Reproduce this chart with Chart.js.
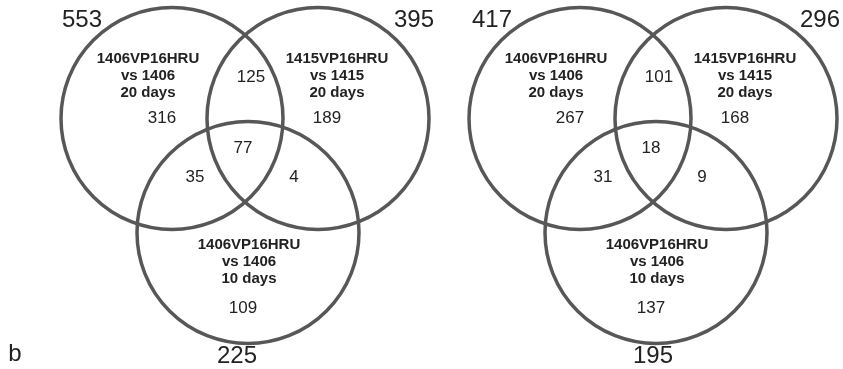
<!DOCTYPE html>
<html>
<head>
<meta charset="utf-8">
<script src="https://cdn.jsdelivr.net/npm/chart.js@4/dist/chart.umd.min.js"></script>
<style>
  html, body { margin: 0; padding: 0; background: #fff; }
  #venn { display: block; }
</style>
</head>
<body>
<canvas id="venn" width="843" height="369"></canvas>
<script>
// set names, one per circle (A = top left, B = top right, C = bottom)
const setLabels = [
  ["1406VP16HRU", "vs 1406", "20 days"],
  ["1415VP16HRU", "vs 1415", "20 days"],
  ["1406VP16HRU", "vs 1406", "10 days"]
];
// totals per set, left and right diagram
const totalsLeft = [553, 395, 225];
const totalsRight = [417, 296, 195];
// region counts: A only, B only, C only, A&B, A&C, B&C, A&B&C
const regionsLeft = [316, 189, 109, 125, 35, 4, 77];
const regionsRight = [267, 168, 137, 101, 31, 9, 18];
const panelTag = "b";

// layout (chart units, one unit = one pixel, y down)
const panelOffsets = [0, 408];
const circleCenters = [[172, 118.5], [318, 118.5], [248, 232.5]];
const circleRadius = 111;
const totalPosLeft = [[82, 20], [414, 20], [237, 356]];
const totalPosRight = [[84, 20], [412, 20], [245, 356]];
const regionPos = [[162, 118], [327, 118], [243, 308], [251, 77], [195, 177], [294, 177], [243, 148]];
const labelPos = [[148, 59], [337, 59], [249, 245]];

const panels = [
  { totals: totalsLeft, totalPos: totalPosLeft, regions: regionsLeft },
  { totals: totalsRight, totalPos: totalPosRight, regions: regionsRight }
];

const circlePoints = [];
panelOffsets.forEach(dx => {
  circleCenters.forEach(c => circlePoints.push({ x: c[0] + dx, y: c[1] }));
});

const radiusPx = (c) => {
  const s = c.chart.scales.x;
  return s.getPixelForValue(circleRadius) - s.getPixelForValue(0);
};

const textPlugin = {
  id: "vennText",
  afterDatasetsDraw(chart) {
    const { ctx, scales: { x, y } } = chart;
    const put = (txt, px, py, font) => {
      ctx.font = font;
      ctx.fillText(txt, x.getPixelForValue(px), y.getPixelForValue(py));
    };
    ctx.save();
    ctx.fillStyle = "#222";
    ctx.textAlign = "center";
    ctx.textBaseline = "middle";
    const fam = "'Liberation Sans', Arial, sans-serif";
    panels.forEach((p, i) => {
      const dx = panelOffsets[i];
      p.totals.forEach((v, k) => put(String(v), p.totalPos[k][0] + dx, p.totalPos[k][1], "24px " + fam));
      p.regions.forEach((v, k) => put(String(v), regionPos[k][0] + dx, regionPos[k][1], "17px " + fam));
      setLabels.forEach((lines, k) => {
        lines.forEach((ln, j) => put(ln, labelPos[k][0] + dx, labelPos[k][1] + j * 17, "bold 15px " + fam));
      });
    });
    put(panelTag, 15, 354, "24px " + fam);
    ctx.restore();
  }
};

new Chart(document.getElementById("venn"), {
  type: "scatter",
  data: {
    datasets: [{
      data: circlePoints,
      pointRadius: radiusPx,
      pointHoverRadius: radiusPx,
      pointBackgroundColor: "rgba(0,0,0,0)",
      pointBorderColor: "#575757",
      pointBorderWidth: 3.5,
      clip: false
    }]
  },
  options: {
    responsive: false,
    animation: false,
    devicePixelRatio: 1,
    events: [],
    layout: { padding: 0 },
    plugins: { legend: { display: false }, tooltip: { enabled: false } },
    scales: {
      x: { type: "linear", min: 0, max: 843, display: false },
      y: { type: "linear", min: 0, max: 369, reverse: true, display: false }
    }
  },
  plugins: [textPlugin]
});
</script>
</body>
</html>
